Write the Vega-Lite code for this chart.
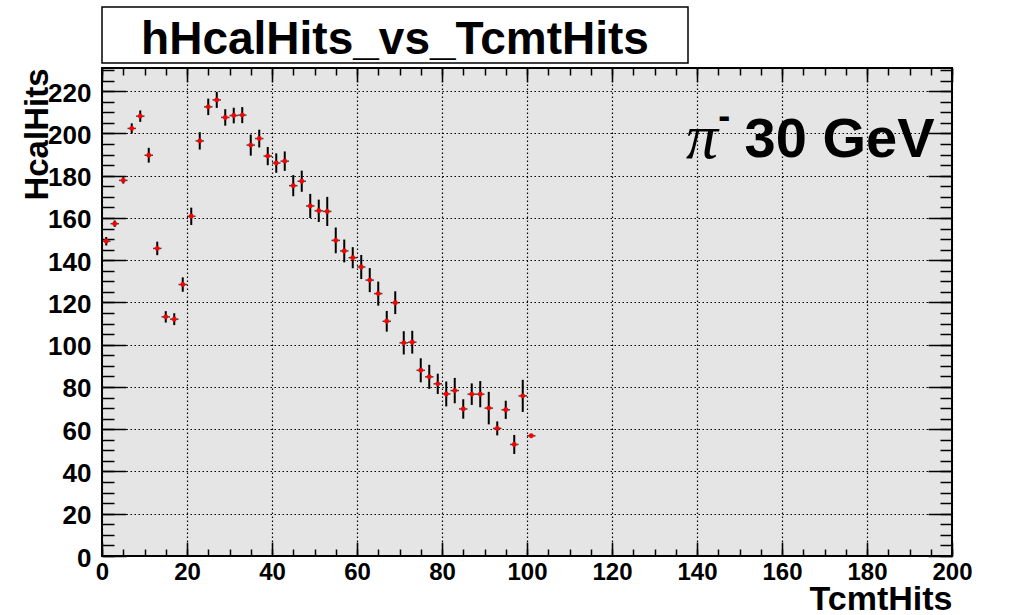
{
  "$schema": "https://vega.github.io/schema/vega-lite/v6.json",
  "padding": {"left": 20, "top": 6, "right": 0, "bottom": 0},
  "background": "white",
  "config": {"font": "Liberation Sans", "view": {"stroke": null}},
  "spacing": 5,
  "bounds": "flush",
  "vconcat": [
    {
      "width": 586,
      "height": 56,
      "view": {"stroke": "black", "strokeWidth": 1.5, "fill": "white"},
      "data": {"values": [{"name": "hHcalHits_vs_TcmtHits"}]},
      "mark": {"type": "text", "font": "Liberation Sans", "fontWeight": "bold", "fontSize": 46, "baseline": "alphabetic", "dy": 19, "color": "black"},
      "encoding": {"text": {"field": "name", "type": "nominal"}}
    },
    {
      "width": 850,
      "height": 488,
      "view": {"stroke": "black", "strokeWidth": 2, "fill": "#e5e5e5"},
      "data": {
        "values": [
          {"x": 1, "y": 149.0, "err": 2.0},
          {"x": 3, "y": 157.3, "err": 1.5},
          {"x": 5, "y": 177.8, "err": 1.5},
          {"x": 7, "y": 202.4, "err": 2.4},
          {"x": 9, "y": 208.2, "err": 2.7},
          {"x": 11, "y": 189.7, "err": 3.5},
          {"x": 13, "y": 145.6, "err": 3.2},
          {"x": 15, "y": 113.2, "err": 2.7},
          {"x": 17, "y": 112.1, "err": 2.8},
          {"x": 19, "y": 128.5, "err": 3.4},
          {"x": 21, "y": 160.8, "err": 4.1},
          {"x": 23, "y": 196.5, "err": 4.1},
          {"x": 25, "y": 212.6, "err": 3.9},
          {"x": 27, "y": 215.9, "err": 3.8},
          {"x": 29, "y": 207.6, "err": 3.9},
          {"x": 31, "y": 208.5, "err": 3.7},
          {"x": 33, "y": 208.7, "err": 3.8},
          {"x": 35, "y": 194.5, "err": 5.0},
          {"x": 37, "y": 197.6, "err": 4.2},
          {"x": 39, "y": 189.3, "err": 4.3},
          {"x": 41, "y": 186.0, "err": 4.6},
          {"x": 43, "y": 186.9, "err": 4.6},
          {"x": 45, "y": 175.3, "err": 5.0},
          {"x": 47, "y": 177.4, "err": 5.0},
          {"x": 49, "y": 165.7, "err": 5.7},
          {"x": 51, "y": 163.4, "err": 5.3},
          {"x": 53, "y": 163.1, "err": 6.9},
          {"x": 55, "y": 149.4, "err": 6.1},
          {"x": 57, "y": 144.4, "err": 5.4},
          {"x": 59, "y": 141.2, "err": 5.0},
          {"x": 61, "y": 136.8, "err": 5.7},
          {"x": 63, "y": 130.6, "err": 5.7},
          {"x": 65, "y": 124.2, "err": 5.7},
          {"x": 67, "y": 111.1, "err": 4.9},
          {"x": 69, "y": 119.9, "err": 5.4},
          {"x": 71, "y": 100.9, "err": 5.5},
          {"x": 73, "y": 101.2, "err": 5.4},
          {"x": 75, "y": 87.9, "err": 5.7},
          {"x": 77, "y": 84.8, "err": 5.7},
          {"x": 79, "y": 81.5, "err": 4.8},
          {"x": 81, "y": 76.7, "err": 5.9},
          {"x": 83, "y": 78.3, "err": 6.0},
          {"x": 85, "y": 69.6, "err": 4.6},
          {"x": 87, "y": 76.6, "err": 5.1},
          {"x": 89, "y": 76.6, "err": 6.2},
          {"x": 91, "y": 70.0, "err": 7.7},
          {"x": 93, "y": 60.4, "err": 3.3},
          {"x": 95, "y": 69.2, "err": 4.3},
          {"x": 97, "y": 52.8, "err": 4.5},
          {"x": 99, "y": 75.8, "err": 7.6},
          {"x": 101, "y": 56.9, "err": 0}
        ]
      },
      "resolve": {"axis": {"x": "independent", "y": "independent"}},
      "layer": [
        {
          "mark": {"type": "errorbar", "color": "black", "thickness": 2},
          "encoding": {
            "x": {
              "field": "x", "type": "quantitative",
              "scale": {"domain": [0, 200], "nice": false, "zero": false},
              "axis": {
                "orient": "bottom", "values": [0, 20, 40, 60, 80, 100, 120, 140, 160, 180, 200],
                "offset": -14, "tickSize": 14, "tickWidth": 1.5, "tickColor": "black", "domain": false,
                "grid": true, "gridColor": "black", "gridDash": [1.5, 2.5], "gridWidth": 1.2,
                "labelFont": "Liberation Sans", "labelFontWeight": "bold", "labelFontSize": 24, "labelColor": "black",
                "labelPadding": 4, "labelFlush": false, "labelOverlap": false,
                "title": "TcmtHits", "titleFont": "Liberation Sans", "titleFontSize": 34, "titleFontWeight": "bold",
                "titleColor": "black", "titleAnchor": "end", "titlePadding": -2
              }
            },
            "y": {
              "field": "y", "type": "quantitative",
              "scale": {"domain": [0, 231], "nice": false, "zero": false},
              "axis": {
                "orient": "left", "values": [0, 20, 40, 60, 80, 100, 120, 140, 160, 180, 200, 220],
                "offset": -24, "tickSize": 24, "tickWidth": 1.5, "tickColor": "black", "domain": false,
                "grid": true, "gridColor": "black", "gridDash": [1.5, 2.5], "gridWidth": 1.2,
                "labelFont": "Liberation Sans", "labelFontWeight": "bold", "labelFontSize": 26, "labelColor": "black",
                "labelPadding": 11, "labelFlush": false, "labelOverlap": false, "labelOffset": 2,
                "title": "HcalHits", "titleFont": "Liberation Sans", "titleFontSize": 33, "titleFontWeight": "bold",
                "titleColor": "black", "titleAnchor": "end", "titlePadding": -7
              }
            },
            "yError": {"field": "err"}
          }
        },
        {
          "mark": {"type": "tick", "orient": "horizontal", "size": 8.5, "thickness": 1.5, "color": "black"},
          "encoding": {
            "x": {
              "field": "x", "type": "quantitative",
              "axis": {"orient": "bottom", "values": [0, 5, 10, 15, 20, 25, 30, 35, 40, 45, 50, 55, 60, 65, 70, 75, 80, 85, 90, 95, 100, 105, 110, 115, 120, 125, 130, 135, 140, 145, 150, 155, 160, 165, 170, 175, 180, 185, 190, 195, 200],
                "offset": -7, "tickSize": 7, "tickWidth": 1.5, "tickColor": "black", "domain": false, "grid": false, "labels": false, "title": null}
            },
            "y": {
              "field": "y", "type": "quantitative",
              "axis": {"orient": "left", "values": [0, 5, 10, 15, 20, 25, 30, 35, 40, 45, 50, 55, 60, 65, 70, 75, 80, 85, 90, 95, 100, 105, 110, 115, 120, 125, 130, 135, 140, 145, 150, 155, 160, 165, 170, 175, 180, 185, 190, 195, 200, 205, 210, 215, 220, 225, 230],
                "offset": -12, "tickSize": 12, "tickWidth": 1.5, "tickColor": "black", "domain": false, "grid": false, "labels": false, "title": null}
            }
          }
        },
        {
          "mark": {"type": "point", "filled": true, "color": "#ff0000", "size": 24, "opacity": 1},
          "encoding": {
            "x": {
              "field": "x", "type": "quantitative",
              "axis": {"orient": "top", "values": [0, 20, 40, 60, 80, 100, 120, 140, 160, 180, 200],
                "offset": -14, "tickSize": 14, "tickWidth": 1.5, "tickColor": "black", "domain": false, "grid": false, "labels": false, "title": null}
            },
            "y": {
              "field": "y", "type": "quantitative",
              "axis": {"orient": "right", "values": [0, 20, 40, 60, 80, 100, 120, 140, 160, 180, 200, 220],
                "offset": -24, "tickSize": 24, "tickWidth": 1.5, "tickColor": "black", "domain": false, "grid": false, "labels": false, "title": null}
            }
          }
        },
        {
          "data": {"values": [{}]},
          "mark": {"type": "text", "text": "30 GeV", "font": "Liberation Sans", "fontSize": 56, "fontWeight": "bold", "align": "left", "baseline": "alphabetic", "color": "black"},
          "encoding": {
            "x": {
              "datum": 151.2, "type": "quantitative",
              "axis": {"orient": "top", "values": [0, 5, 10, 15, 20, 25, 30, 35, 40, 45, 50, 55, 60, 65, 70, 75, 80, 85, 90, 95, 100, 105, 110, 115, 120, 125, 130, 135, 140, 145, 150, 155, 160, 165, 170, 175, 180, 185, 190, 195, 200],
                "offset": -7, "tickSize": 7, "tickWidth": 1.5, "tickColor": "black", "domain": false, "grid": false, "labels": false, "title": null}
            },
            "y": {
              "datum": 189, "type": "quantitative",
              "axis": {"orient": "right", "values": [0, 5, 10, 15, 20, 25, 30, 35, 40, 45, 50, 55, 60, 65, 70, 75, 80, 85, 90, 95, 100, 105, 110, 115, 120, 125, 130, 135, 140, 145, 150, 155, 160, 165, 170, 175, 180, 185, 190, 195, 200, 205, 210, 215, 220, 225, 230],
                "offset": -12, "tickSize": 12, "tickWidth": 1.5, "tickColor": "black", "domain": false, "grid": false, "labels": false, "title": null}
            }
          }
        },
        {
          "data": {"values": [{}]},
          "mark": {"type": "text", "text": "π", "font": "Liberation Serif", "fontSize": 64, "fontStyle": "italic", "align": "left", "baseline": "alphabetic", "color": "black"},
          "encoding": {
            "x": {"datum": 137.4, "type": "quantitative", "axis": null},
            "y": {"datum": 188.2, "type": "quantitative", "axis": null}
          }
        },
        {
          "data": {"values": [{}]},
          "mark": {"type": "text", "text": "-", "font": "Liberation Sans", "fontSize": 36, "fontWeight": "bold", "align": "left", "baseline": "alphabetic", "color": "black"},
          "encoding": {
            "x": {"datum": 145.0, "type": "quantitative", "axis": null},
            "y": {"datum": 202.5, "type": "quantitative", "axis": null}
          }
        }
      ]
    }
  ]
}
